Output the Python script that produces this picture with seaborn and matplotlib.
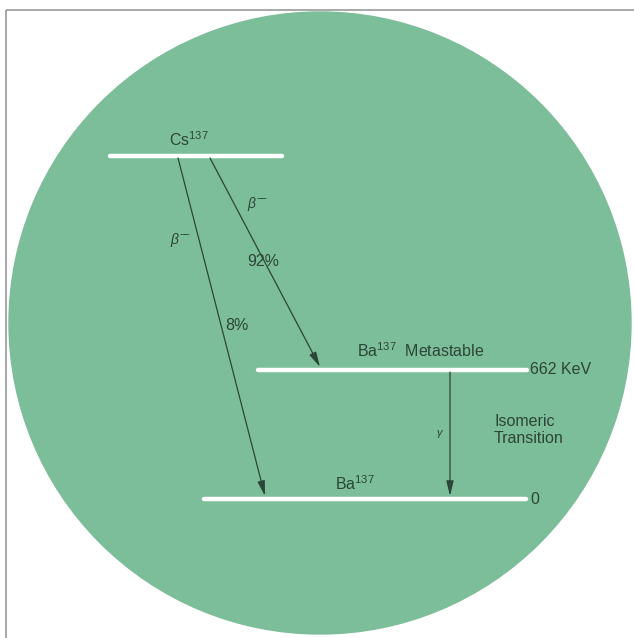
import numpy as np
import pandas as pd

import matplotlib
matplotlib.use("Agg")
import matplotlib.pyplot as plt
from matplotlib.patches import Circle, Rectangle
import seaborn as sns

# decay scheme data
levels = ["Cs", "Ba_meta", "Ba"]
level_labels = ["Cs$^{137}$", "Ba$^{137}$  Metastable", "Ba$^{137}$"]
energy_labels = ["", "662 KeV", "0"]
branches = ["8%", "92%"]
branch_particles = ["$\\beta^{-\\!\\!-}$", "$\\beta^{-\\!\\!-}$"]
gamma_label = "$\\gamma$"
transition_label = "Isomeric\nTransition"

# layout (pixel-like units, y downwards)
level_y = [156, 370, 499]
level_x0 = [110, 258, 204]
level_x1 = [282, 527, 526]

GREEN = "#7dbe9a"
INK = "#2b4637"

sns.set_style("white")
plt.rcParams["font.family"] = ["Liberation Sans", "DejaVu Sans"]
plt.rcParams["mathtext.fontset"] = "custom"
plt.rcParams["mathtext.rm"] = "Liberation Sans"
plt.rcParams["mathtext.it"] = "Liberation Sans:italic"

fig = plt.figure(figsize=(6.34, 6.38), dpi=100)
ax = fig.add_axes([0, 0, 1, 1])
ax.set_xlim(0, 634)
ax.set_ylim(638, 0)
ax.axis("off")

# frame and disc
ax.add_patch(Rectangle((6, 10), 640, 640, fill=False, ec="#9a9a9a", lw=1.2))
ax.add_patch(Circle((320, 323), 311, color=GREEN, zorder=1))

# energy levels
df = pd.DataFrame({
    "x": np.ravel(list(zip(level_x0, level_x1))),
    "y": np.repeat(level_y, 2),
    "level": np.repeat(levels, 2),
})
sns.lineplot(data=df, x="x", y="y", units="level", estimator=None,
             color="white", lw=3.2, ax=ax, zorder=3)

def arrow(x0, y0, x1, y1):
    ax.annotate("", xy=(x1, y1), xytext=(x0, y0), zorder=4,
                arrowprops=dict(arrowstyle="-|>,head_length=0.9,head_width=0.22",
                                color=INK, lw=0.9, shrinkA=0, shrinkB=0))

# beta branches and gamma transition
arrow(178, level_y[0] + 2, 265, level_y[2] - 3)
arrow(210, level_y[0] + 2, 320, level_y[1] - 3)
arrow(450, level_y[1] + 2, 450, level_y[2] - 3)

fs = 11.5
ax.text(189, 146, level_labels[0], color=INK, fontsize=fs, ha="center", va="baseline", zorder=5)
ax.text(421, 357, level_labels[1], color=INK, fontsize=fs, ha="center", va="baseline", zorder=5)
ax.text(355, 490, level_labels[2], color=INK, fontsize=fs, ha="center", va="baseline", zorder=5)
ax.text(530, 370, energy_labels[1], color=INK, fontsize=fs, ha="left", va="center", zorder=5)
ax.text(530, 500, energy_labels[2], color=INK, fontsize=fs, ha="left", va="center", zorder=5)

ax.text(181, 240, branch_particles[0], color=INK, fontsize=10, ha="center", va="center", zorder=5)
ax.text(258, 204, branch_particles[1], color=INK, fontsize=10, ha="center", va="center", zorder=5)
ax.text(237, 326, branches[0], color=INK, fontsize=fs, ha="center", va="center", zorder=5)
ax.text(263, 262, branches[1], color=INK, fontsize=fs, ha="center", va="center", zorder=5)
ax.text(440, 434, gamma_label, color=INK, fontsize=8, ha="center", va="center", zorder=5)
ax.text(494, 430, transition_label, color=INK, fontsize=fs, ha="left", va="center",
        linespacing=1.1, zorder=5)

fig.savefig("out.png", dpi=100)
